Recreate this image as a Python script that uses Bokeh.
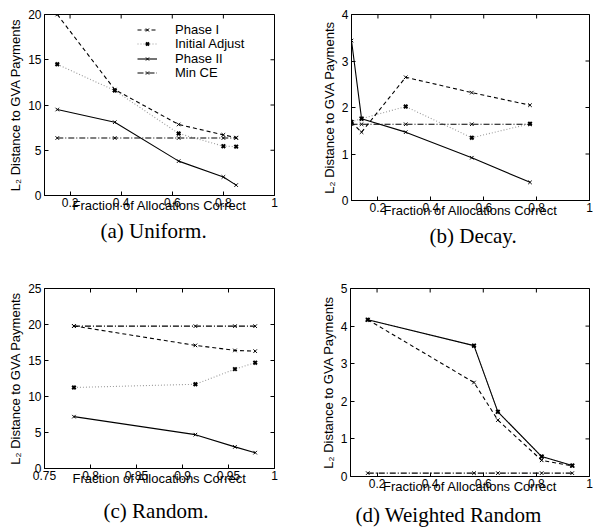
import math
from bokeh.plotting import figure
from bokeh.models import FixedTicker, Range1d, Legend, LegendItem
from bokeh.layouts import column, row
from bokeh.embed import file_html
from bokeh.resources import INLINE

# ---------------- data ----------------
series_names = ["Phase I", "Initial Adjust", "Phase II", "Min CE"]

a_x = [0.15, 0.375, 0.625, 0.8, 0.85]
a_phase1 = [20.0, 11.7, 7.85, 6.7, 6.4]
a_init = [14.5, 11.6, 6.85, 5.45, 5.4]
a_phase2 = [9.5, 8.1, 3.8, 2.05, 1.15]
a_mince = [6.35, 6.35, 6.35, 6.35, 6.35]

b_x = [0.1, 0.138, 0.305, 0.555, 0.775]
b_phase1 = [1.68, 1.47, 2.65, 2.32, 2.05]
b_init = [1.69, 1.76, 2.02, 1.35, 1.65]
b_phase2 = [3.44, 1.76, 1.47, 0.92, 0.39]
b_mince = [1.64, 1.64, 1.64, 1.64, 1.64]

c_x = [0.782, 0.914, 0.957, 0.979]
c_phase1 = [19.8, 17.1, 16.4, 16.3]
c_init = [11.25, 11.7, 13.8, 14.7]
c_phase2 = [7.2, 4.7, 3.0, 2.2]
c_mince = [19.77, 19.77, 19.77, 19.77]

d_x = [0.165, 0.565, 0.655, 0.82, 0.935]
d_phase1 = [4.17, 2.5, 1.5, 0.43, 0.28]
d_init = [4.17, 3.48, 1.72, 0.53, 0.29]
d_phase2 = [4.17, 3.48, 1.72, 0.53, 0.29]
d_mince = [0.09, 0.09, 0.09, 0.09, 0.09]

x_ticks_std = [0.2, 0.4, 0.6, 0.8, 1.0]
x_labels_std = ["0.2", "0.4", "0.6", "0.8", "1"]
x_ticks_c = [0.75, 0.8, 0.85, 0.9, 0.95, 1.0]
x_labels_c = ["0.75", "0.8", "0.85", "0.9", "0.95", "1"]
y_ticks_a = [0, 5, 10, 15, 20]
y_ticks_b = [0, 1, 2, 3, 4]
y_ticks_c = [0, 5, 10, 15, 20, 25]
y_ticks_d = [0, 1, 2, 3, 4, 5]

captions = ["(a) Uniform.", "(b) Decay.", "(c) Random.", "(d) Weighted Random"]
x_label = "Fraction of Allocations Correct"
y_label = "L\u2082 Distance to GVA Payments"

SANS = "Liberation Sans"
SERIF = "Liberation Serif"

STYLES = {
    "Phase I": dict(color="black", dash="4 3", mlw=1.0),
    "Initial Adjust": dict(color="#9a9a9a", dash="1 2", mlw=2.0),
    "Phase II": dict(color="black", dash="solid", mlw=1.0),
    "Min CE": dict(color="black", dash="6 2 1 2", mlw=1.0),
}
LEGEND_Y = [158, 144, 129, 115]


def panel(xs, data, xr, yr, xticks, xlabels, yticks, caption,
          left, top, fw, fh, right, bottom, cap_offset, cap_standoff, legend=False):
    p = figure(output_backend="svg", toolbar_location=None,
               frame_width=fw, frame_height=fh,
               min_border_left=left, min_border_top=top,
               min_border_right=right, min_border_bottom=bottom,
               x_range=Range1d(*xr), y_range=Range1d(*yr),
               title=caption, title_location="below")
    p.background_fill_color = "white"
    p.border_fill_color = "white"
    p.outline_line_color = "black"
    p.outline_line_width = 1
    p.grid.visible = False

    p.title.align = "left"
    p.title.text_font = SERIF
    p.title.text_font_size = "21px"
    p.title.text_font_style = "normal"
    p.title.text_color = "black"
    p.title.offset = cap_offset
    p.title.standoff = cap_standoff

    ax = p.xaxis[0]
    ay = p.yaxis[0]
    ax.ticker = FixedTicker(ticks=xticks)
    ay.ticker = FixedTicker(ticks=yticks)
    ax.major_label_overrides = {t: l for t, l in zip(xticks, xlabels)}
    ay.major_label_overrides = {t: str(t) for t in yticks}
    for a in (ax, ay):
        a.major_tick_in = 4
        a.major_tick_out = 0
        a.minor_tick_line_color = None
        a.axis_line_color = "black"
        a.major_label_text_font = SANS
        a.major_label_text_font_size = "12px"
        a.major_label_text_color = "black"
        a.axis_label_text_font = SANS
        a.axis_label_text_font_size = "13px"
        a.axis_label_text_font_style = "normal"
        a.axis_label_text_color = "black"
        a.major_label_standoff = 3
    ax.major_label_standoff = 2
    ax.axis_label = x_label
    ay.axis_label = y_label
    ax.axis_label_standoff = -12
    ay.axis_label_standoff = 2

    # mirrored inward ticks on the top and right edges (half of each dash is clipped)
    p.scatter(xticks, [yr[1]] * len(xticks), marker="dash", size=8, angle=math.pi / 2,
              line_color="black", line_width=1)
    p.scatter([xr[1]] * len(yticks), yticks, marker="dash", size=8,
              line_color="black", line_width=1)

    items = {}
    order = ["Initial Adjust", "Min CE", "Phase I", "Phase II"]
    for name in order:
        st = STYLES[name]
        ys = data[name]
        ln = p.line(xs, ys, line_color=st["color"], line_width=1.1, line_dash=st["dash"])
        sc = p.scatter(xs, ys, marker="x", size=5, line_color="black", line_width=st["mlw"])
        items[name] = [ln, sc]

    if legend:
        # one single-row legend per series, so that rows can sit close together
        for n, ly in zip(series_names, LEGEND_Y):
            lg = Legend(items=[LegendItem(label=n, renderers=items[n])],
                        location=(93, ly))
            lg.background_fill_alpha = 0
            lg.border_line_color = None
            lg.label_text_font = SANS
            lg.label_text_font_size = "13px"
            lg.label_text_color = "black"
            lg.glyph_width = 20
            lg.glyph_height = 11
            lg.label_height = 11
            lg.label_standoff = 18
            lg.spacing = 0
            lg.padding = 0
            lg.margin = 0
            p.add_layout(lg, "center")
    return p


pa = panel(a_x, {"Phase I": a_phase1, "Initial Adjust": a_init, "Phase II": a_phase2, "Min CE": a_mince},
           (0.1, 1.0), (0, 20), x_ticks_std, x_labels_std, y_ticks_a, captions[0],
           left=44, top=13, fw=230, fh=181, right=23, bottom=68,
           cap_offset=56, cap_standoff=2, legend=True)
pb = panel(b_x, {"Phase I": b_phase1, "Initial Adjust": b_init, "Phase II": b_phase2, "Min CE": b_mince},
           (0.1, 1.0), (0, 4), x_ticks_std, x_labels_std, y_ticks_b, captions[1],
           left=54, top=14, fw=238, fh=186, right=5, bottom=62,
           cap_offset=78, cap_standoff=3)
pc = panel(c_x, {"Phase I": c_phase1, "Initial Adjust": c_init, "Phase II": c_phase2, "Min CE": c_mince},
           (0.75, 1.0), (0, 25), x_ticks_c, x_labels_c, y_ticks_c, captions[2],
           left=44, top=26, fw=230, fh=180, right=23, bottom=63,
           cap_offset=59, cap_standoff=17)
pd_ = panel(d_x, {"Phase I": d_phase1, "Initial Adjust": d_init, "Phase II": d_phase2, "Min CE": d_mince},
            (0.1, 1.0), (0, 5), x_ticks_std, x_labels_std, y_ticks_d, captions[3],
            left=53, top=22, fw=239, fh=188, right=5, bottom=59,
            cap_offset=5, cap_standoff=9)

layout = column(row(pa, pb), row(pc, pd_))
open("out.html", "w").write(file_html(layout, INLINE))
